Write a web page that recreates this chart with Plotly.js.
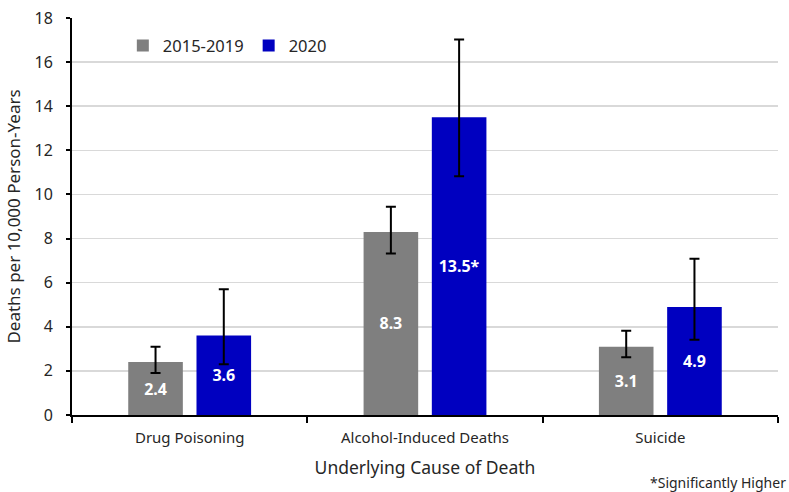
<!DOCTYPE html>
<html>
<head>
<meta charset="utf-8">
<script src="https://cdn.plot.ly/plotly-3.0.1.min.js"></script>
<style>html,body{margin:0;padding:0;background:#fff;}#chart{width:789px;height:492px;}</style>
</head>
<body>
<div id="chart"></div>
<script>
const categories = ["Drug Poisoning", "Alcohol-Induced Deaths", "Suicide"];
const base2015 = [2.4, 8.3, 3.1];
const base2015Upper = [3.1, 9.44, 3.82];
const base2015Lower = [1.9, 7.32, 2.62];
const y2020 = [3.6, 13.5, 4.9];
const y2020Upper = [5.7, 17.02, 7.09];
const y2020Lower = [2.3, 10.83, 3.41];
const labels2015 = ["2.4", "8.3", "3.1"];
const labels2020 = ["3.6", "13.5*", "4.9"];

const FONT = "Noto Sans, Open Sans, sans-serif";

function errArr(vals, up, lo) {
  return {
    type: 'data', symmetric: false,
    array: up.map((u, i) => u - vals[i]),
    arrayminus: lo.map((l, i) => vals[i] - l),
    color: '#000', thickness: 2, width: 5
  };
}

const traces = [
  {
    type: 'bar', name: '2015-2019', x: categories, y: base2015,
    marker: {color: '#7f7f7f'},
    text: labels2015, textposition: 'inside', insidetextanchor: 'middle',
    textfont: {color: '#fff', size: 16, family: FONT, weight: 'bold'},
    error_y: errArr(base2015, base2015Upper, base2015Lower),
    hoverinfo: 'skip'
  },
  {
    type: 'bar', name: '2020', x: categories, y: y2020,
    marker: {color: '#0000c0'},
    text: labels2020, textposition: 'inside', insidetextanchor: 'middle',
    textfont: {color: '#fff', size: 16, family: FONT, weight: 'bold'},
    error_y: errArr(y2020, y2020Upper, y2020Lower),
    hoverinfo: 'skip'
  }
];

const layout = {
  width: 789, height: 492,
  margin: {l: 72, r: 11, t: 18, b: 77, pad: 0},
  paper_bgcolor: '#fff', plot_bgcolor: '#fff',
  font: {family: FONT, color: '#262626', size: 15},
  barmode: 'group', bargap: 0.42, bargroupgap: 0.2,
  showlegend: true,
  legend: {orientation: 'h', x: 0.072, y: 0.93, xanchor: 'left', yanchor: 'middle',
           font: {size: 16.5, family: FONT, color: '#262626'}, itemwidth: 30, traceorder: 'normal', bgcolor: 'rgba(0,0,0,0)'},
  xaxis: {
    showline: true, linecolor: '#000', linewidth: 2,
    ticks: 'outside', tickson: 'boundaries', ticklen: 6, tickcolor: '#000', tickwidth: 2,
    tickfont: {size: 15, family: FONT, color: '#262626'}, ticklabelstandoff: 8,
    title: {text: 'Underlying Cause of Death', font: {size: 17.5, family: FONT, color: '#262626'}, standoff: 16},
    showgrid: false
  },
  yaxis: {
    range: [0, 18], dtick: 2, tick0: 0,
    showline: true, linecolor: '#000', linewidth: 2,
    ticks: 'outside', ticklen: 4, tickcolor: '#000', tickwidth: 2,
    tickfont: {size: 16, family: FONT, color: '#262626'}, ticklabelstandoff: 10,
    showgrid: true, gridcolor: '#d9d9d9', gridwidth: 1.5,
    zeroline: false,
    title: {text: 'Deaths per 10,000 Person-Years', font: {size: 17, family: FONT, color: '#262626'}, standoff: 10}
  },
  annotations: [{
    text: '*Significantly Higher', xref: 'paper', yref: 'paper',
    x: 1.0135, y: -0.17, xanchor: 'right', yanchor: 'middle', showarrow: false,
    font: {size: 14, family: FONT, color: '#262626'}
  }]
};

Plotly.newPlot('chart', traces, layout, {displayModeBar: false, staticPlot: true});
</script>
</body>
</html>
